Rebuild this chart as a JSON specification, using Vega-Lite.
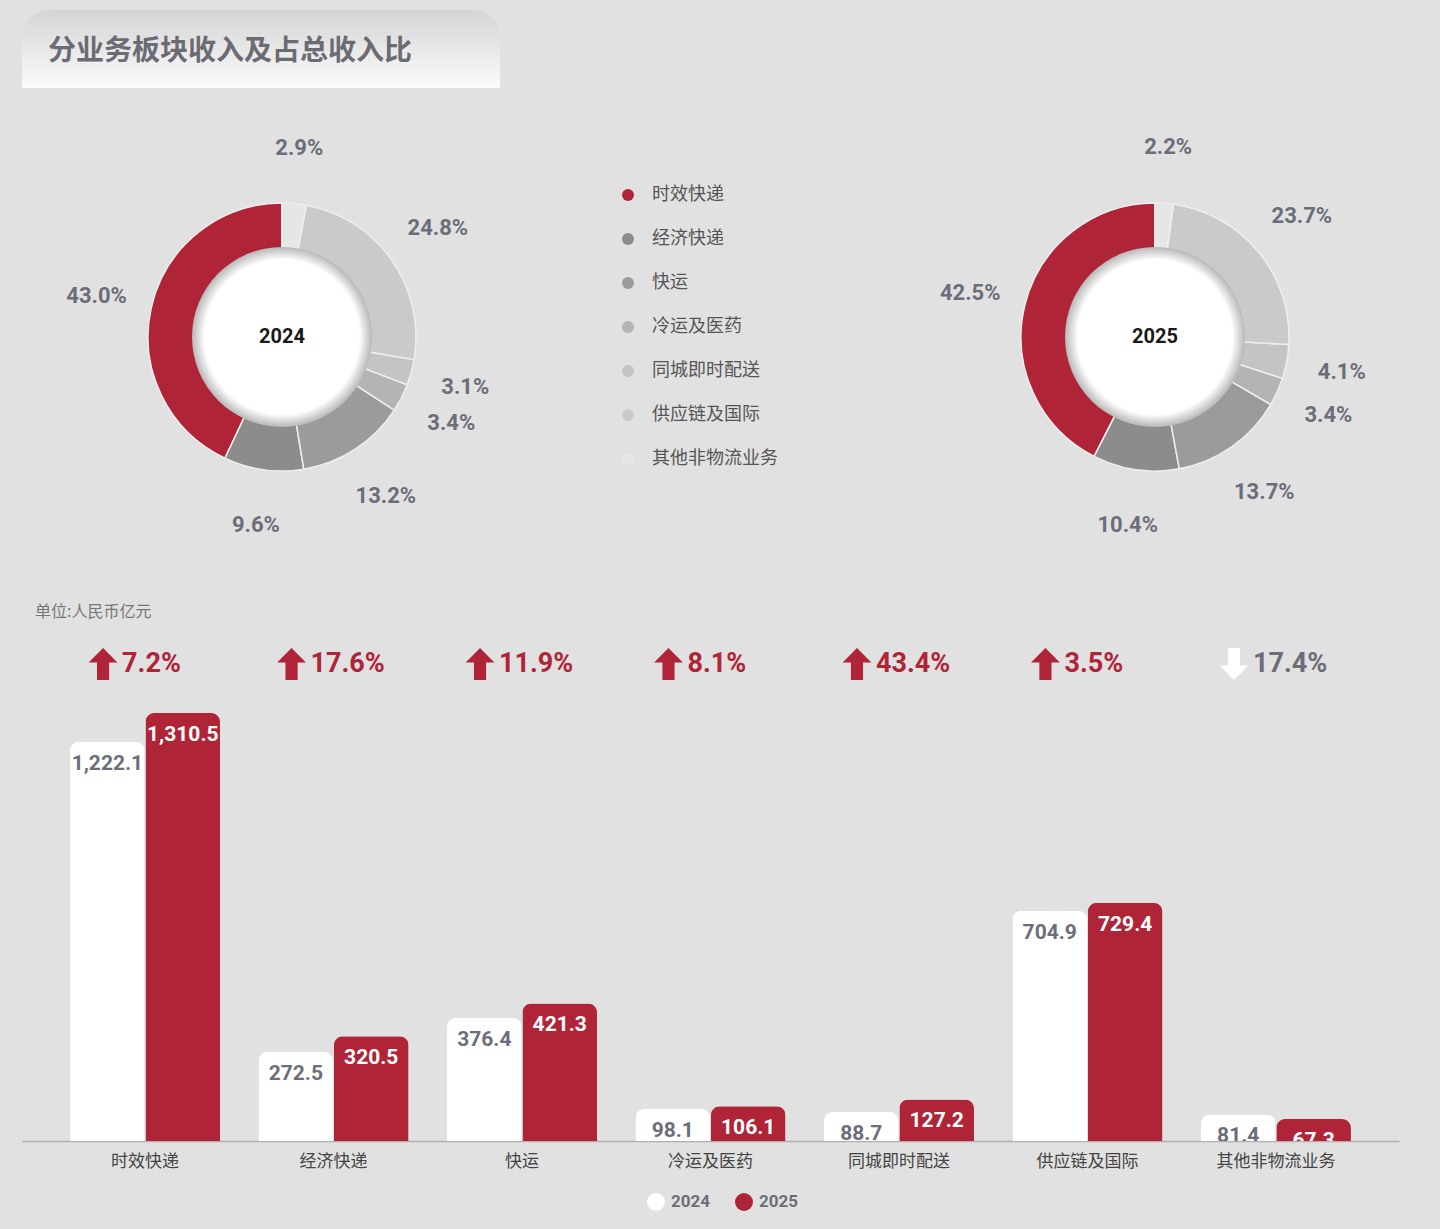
{
  "$schema": "https://vega.github.io/schema/vega-lite/v6.json",
  "background": "#e1e1e1",
  "padding": {"left": 22, "top": 10, "right": 25, "bottom": 19},
  "spacing": 0,
  "config": {
    "view": {"stroke": null},
    "font": "Noto Sans CJK SC"
  },
  "resolve": {
    "scale": {"color": "independent", "shape": "independent", "x": "independent", "y": "independent"},
    "legend": {"color": "independent", "shape": "independent"}
  },
  "vconcat": [
    {
      "width": 478,
      "height": 78,
      "data": {"values": [{"title": "分业务板块收入及占总收入比"}]},
      "layer": [
        {
          "mark": {
            "type": "rect",
            "cornerRadiusTopLeft": 28,
            "cornerRadiusTopRight": 28,
            "color": {
              "gradient": "linear",
              "x1": 0, "y1": 0, "x2": 0, "y2": 1,
              "stops": [
                {"offset": 0, "color": "#d4d4d4"},
                {"offset": 1, "color": "#fbfbfb"}
              ]
            }
          },
          "encoding": {}
        },
        {
          "mark": {
            "type": "text",
            "fontSize": 28,
            "fontWeight": "bold",
            "color": "#6b6b73",
            "dx": -31,
            "dy": 3,
            "font": "Noto Sans CJK SC"
          },
          "encoding": {"text": {"field": "title"}}
        }
      ]
    },
    {
      "spacing": 18,
      "resolve": {
        "scale": {"color": "independent", "shape": "independent", "x": "independent", "y": "independent"},
        "legend": {"color": "independent", "shape": "independent"}
      },
      "vconcat": [
        {
          "hconcat": [
            {
              "width": 520,
              "height": 498,
              "data": {"values": [
                {"seg": "时效快递", "idx": 1, "share": 0.430},
                {"seg": "经济快递", "idx": 2, "share": 0.096},
                {"seg": "快运", "idx": 3, "share": 0.132},
                {"seg": "冷运及医药", "idx": 4, "share": 0.034},
                {"seg": "同城即时配送", "idx": 5, "share": 0.031},
                {"seg": "供应链及国际", "idx": 6, "share": 0.248},
                {"seg": "其他非物流业务", "idx": 7, "share": 0.029}
              ]},
              "layer": [
                {
                  "mark": {"type": "arc", "outerRadius": 134, "innerRadius": 86, "stroke": "#eeeeee", "strokeWidth": 1.5},
                  "encoding": {
                    "theta": {"field": "share", "type": "quantitative", "stack": true},
                    "order": {"field": "idx", "type": "quantitative", "sort": "descending"},
                    "color": {
                      "field": "seg",
                      "type": "nominal",
                      "scale": {
                        "domain": ["时效快递", "经济快递", "快运", "冷运及医药", "同城即时配送", "供应链及国际", "其他非物流业务"],
                        "range": ["#b02437", "#8c8c8c", "#9b9b9b", "#b4b4b4", "#c4c4c4", "#cacaca", "#e6e6e6"]
                      },
                      "legend": {
                        "orient": "none",
                        "legendX": 597,
                        "legendY": 98,
                        "title": null,
                        "symbolType": "circle",
                        "symbolSize": 144,
                        "symbolStrokeWidth": 0,
                        "symbolOpacity": 1,
                        "labelFontSize": 18,
                        "labelColor": "#555555",
                        "labelOffset": 15,
                        "rowPadding": 26,
                        "labelFont": "Noto Sans CJK SC"
                      }
                    }
                  }
                },
                {
                  "data": {"values": [{"year": "2024"}]},
                  "layer": [
                    {
                      "mark": {
                        "type": "point",
                        "shape": "circle",
                        "filled": true,
                        "opacity": 1,
                        "size": 32400,
                        "color": {
                          "gradient": "radial",
                          "stops": [
                            {"offset": 0, "color": "#ffffff"},
                            {"offset": 0.86, "color": "#ffffff"},
                            {"offset": 1, "color": "#b8b8b8"}
                          ]
                        }
                      },
                      "encoding": {}
                    },
                    {
                      "mark": {"type": "text", "fontSize": 20, "fontWeight": "bold", "color": "#1a1a1a", "font": "Roboto"},
                      "encoding": {"text": {"field": "year"}}
                    }
                  ]
                },
                {
                  "mark": {"type": "text", "radius": 190, "fontSize": 22, "fontWeight": "bold", "color": "#6b6e7a", "font": "Roboto"},
                  "encoding": {
                    "theta": {"field": "share", "type": "quantitative", "stack": true},
                    "order": {"field": "idx", "type": "quantitative", "sort": "descending"},
                    "text": {"field": "share", "type": "quantitative", "format": ".1%"}
                  }
                }
              ]
            },
            {
              "width": 520,
              "height": 498,
              "data": {"values": [
                {"seg": "时效快递", "idx": 1, "share": 0.425},
                {"seg": "经济快递", "idx": 2, "share": 0.104},
                {"seg": "快运", "idx": 3, "share": 0.137},
                {"seg": "冷运及医药", "idx": 4, "share": 0.034},
                {"seg": "同城即时配送", "idx": 5, "share": 0.041},
                {"seg": "供应链及国际", "idx": 6, "share": 0.237},
                {"seg": "其他非物流业务", "idx": 7, "share": 0.022}
              ]},
              "layer": [
                {
                  "mark": {"type": "arc", "outerRadius": 134, "innerRadius": 86, "stroke": "#eeeeee", "strokeWidth": 1.5},
                  "encoding": {
                    "theta": {"field": "share", "type": "quantitative", "stack": true},
                    "order": {"field": "idx", "type": "quantitative", "sort": "descending"},
                    "color": {
                      "field": "seg",
                      "type": "nominal",
                      "scale": {
                        "domain": ["时效快递", "经济快递", "快运", "冷运及医药", "同城即时配送", "供应链及国际", "其他非物流业务"],
                        "range": ["#b02437", "#8c8c8c", "#9b9b9b", "#b4b4b4", "#c4c4c4", "#cacaca", "#e6e6e6"]
                      },
                      "legend": null
                    }
                  }
                },
                {
                  "data": {"values": [{"year": "2025"}]},
                  "layer": [
                    {
                      "mark": {
                        "type": "point",
                        "shape": "circle",
                        "filled": true,
                        "opacity": 1,
                        "size": 32400,
                        "color": {
                          "gradient": "radial",
                          "stops": [
                            {"offset": 0, "color": "#ffffff"},
                            {"offset": 0.86, "color": "#ffffff"},
                            {"offset": 1, "color": "#b8b8b8"}
                          ]
                        }
                      },
                      "encoding": {}
                    },
                    {
                      "mark": {"type": "text", "fontSize": 20, "fontWeight": "bold", "color": "#1a1a1a", "font": "Roboto"},
                      "encoding": {"text": {"field": "year"}}
                    }
                  ]
                },
                {
                  "mark": {"type": "text", "radius": 190, "fontSize": 22, "fontWeight": "bold", "color": "#6b6e7a", "font": "Roboto"},
                  "encoding": {
                    "theta": {"field": "share", "type": "quantitative", "stack": true},
                    "order": {"field": "idx", "type": "quantitative", "sort": "descending"},
                    "text": {"field": "share", "type": "quantitative", "format": ".1%"}
                  }
                }
              ]
            }
          ],
          "spacing": 353,
          "bounds": "flush",
          "resolve": {
            "scale": {"color": "independent", "theta": "independent"},
            "legend": {"color": "independent"}
          }
        },
        {
          "spacing": 0,
          "resolve": {
            "scale": {"color": "independent", "shape": "independent", "x": "independent", "y": "independent"},
            "legend": {"color": "independent", "shape": "independent"}
          },
          "vconcat": [
            {
              "width": 1377,
              "height": 98,
              "title": {
                "text": "单位:人民币亿元",
                "anchor": "start",
                "frame": "group",
                "fontSize": 16,
                "fontWeight": "normal",
                "color": "#777777",
                "font": "Noto Sans CJK SC",
                "dx": 13,
                "offset": -5
              },
              "data": {"values": [
                {"cat": "时效快递", "chg": "7.2%", "dir": "up"},
                {"cat": "经济快递", "chg": "17.6%", "dir": "up"},
                {"cat": "快运", "chg": "11.9%", "dir": "up"},
                {"cat": "冷运及医药", "chg": "8.1%", "dir": "up"},
                {"cat": "同城即时配送", "chg": "43.4%", "dir": "up"},
                {"cat": "供应链及国际", "chg": "3.5%", "dir": "up"},
                {"cat": "其他非物流业务", "chg": "17.4%", "dir": "down"}
              ]},
              "encoding": {
                "x": {
                  "field": "cat",
                  "type": "nominal",
                  "sort": ["时效快递", "经济快递", "快运", "冷运及医药", "同城即时配送", "供应链及国际", "其他非物流业务"],
                  "scale": {"type": "band", "paddingInner": 0.204, "paddingOuter": 0.255},
                  "axis": null
                }
              },
              "layer": [
                {
                  "mark": {"type": "point", "filled": true, "opacity": 1, "size": 1024, "xOffset": -42},
                  "encoding": {
                    "shape": {
                      "field": "dir",
                      "type": "nominal",
                      "scale": {
                        "domain": ["up", "down"],
                        "range": [
                          "M0,-1L0.9,-0.1L0.38,-0.1L0.38,1L-0.38,1L-0.38,-0.1L-0.9,-0.1Z",
                          "M0,1L0.9,0.1L0.38,0.1L0.38,-1L-0.38,-1L-0.38,0.1L-0.9,0.1Z"
                        ]
                      },
                      "legend": null
                    },
                    "color": {
                      "field": "dir",
                      "type": "nominal",
                      "scale": {"domain": ["up", "down"], "range": ["#b02437", "#ffffff"]},
                      "legend": null
                    }
                  }
                },
                {
                  "mark": {"type": "text", "align": "left", "dx": -23, "fontSize": 27, "fontWeight": "bold", "font": "Roboto"},
                  "encoding": {
                    "text": {"field": "chg"},
                    "color": {
                      "condition": {"test": "datum.dir === 'down'", "value": "#6b6e7a"},
                      "value": "#b02437"
                    }
                  }
                }
              ]
            },
            {
              "width": 1377,
              "height": 428,
              "data": {"values": [
                {"cat": "时效快递", "year": "2024", "value": 1222.1},
                {"cat": "时效快递", "year": "2025", "value": 1310.5},
                {"cat": "经济快递", "year": "2024", "value": 272.5},
                {"cat": "经济快递", "year": "2025", "value": 320.5},
                {"cat": "快运", "year": "2024", "value": 376.4},
                {"cat": "快运", "year": "2025", "value": 421.3},
                {"cat": "冷运及医药", "year": "2024", "value": 98.1},
                {"cat": "冷运及医药", "year": "2025", "value": 106.1},
                {"cat": "同城即时配送", "year": "2024", "value": 88.7},
                {"cat": "同城即时配送", "year": "2025", "value": 127.2},
                {"cat": "供应链及国际", "year": "2024", "value": 704.9},
                {"cat": "供应链及国际", "year": "2025", "value": 729.4},
                {"cat": "其他非物流业务", "year": "2024", "value": 81.4},
                {"cat": "其他非物流业务", "year": "2025", "value": 67.3}
              ]},
              "encoding": {
                "x": {
                  "field": "cat",
                  "type": "nominal",
                  "sort": ["时效快递", "经济快递", "快运", "冷运及医药", "同城即时配送", "供应链及国际", "其他非物流业务"],
                  "scale": {"type": "band", "paddingInner": 0.204, "paddingOuter": 0.255},
                  "axis": {
                    "title": null,
                    "labelAngle": 0,
                    "labelFontSize": 17,
                    "labelColor": "#444444",
                    "labelPadding": 12,
                    "labelFont": "Noto Sans CJK SC",
                    "ticks": false,
                    "domainColor": "#b0b0b0",
                    "domainWidth": 1.5
                  }
                },
                "xOffset": {
                  "field": "year",
                  "type": "nominal",
                  "scale": {"paddingInner": 0.01}
                },
                "y": {
                  "field": "value",
                  "type": "quantitative",
                  "scale": {"domain": [0, 1310.5], "nice": false},
                  "axis": null
                }
              },
              "layer": [
                {
                  "mark": {"type": "bar", "cornerRadiusTopLeft": 9, "cornerRadiusTopRight": 9},
                  "encoding": {
                    "color": {
                      "field": "year",
                      "type": "nominal",
                      "scale": {"domain": ["2024", "2025"], "range": ["#ffffff", "#b02437"]},
                      "legend": {
                        "orient": "none",
                        "direction": "horizontal",
                        "legendX": 625,
                        "legendY": 480,
                        "title": null,
                        "symbolType": "circle",
                        "symbolSize": 324,
                        "symbolStrokeWidth": 0,
                        "symbolOpacity": 1,
                        "columnPadding": 24,
                        "labelOffset": 6,
                        "labelFontSize": 17,
                        "labelFontWeight": "bold",
                        "labelColor": "#6b6e7a",
                        "labelFont": "Roboto"
                      }
                    }
                  }
                },
                {
                  "mark": {"type": "text", "dy": 22, "clip": true, "fontSize": 21, "fontWeight": "bold", "font": "Roboto"},
                  "encoding": {
                    "text": {"field": "value", "type": "quantitative", "format": ",.1f"},
                    "color": {
                      "condition": {"test": "datum.year === '2025'", "value": "#ffffff"},
                      "value": "#6b6e7a"
                    }
                  }
                }
              ]
            }
          ]
        }
      ]
    }
  ]
}
